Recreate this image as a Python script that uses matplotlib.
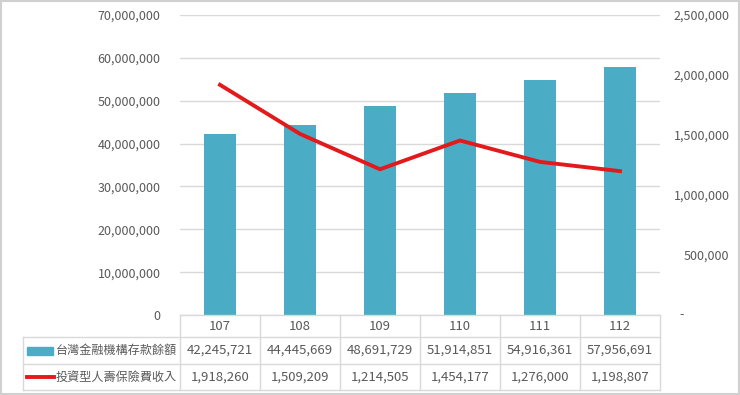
import matplotlib
matplotlib.use("Agg")
import matplotlib.pyplot as plt
from matplotlib.lines import Line2D
from matplotlib.patches import Rectangle
from matplotlib.ticker import FuncFormatter, MultipleLocator
import matplotlib.transforms as mtransforms

plt.rcParams['font.family'] = ['Noto Sans CJK TC', 'DejaVu Sans']

# data
years = ['107', '108', '109', '110', '111', '112']
deposits = [42245721, 44445669, 48691729, 51914851, 54916361, 57956691]
premiums = [1918260, 1509209, 1214505, 1454177, 1276000, 1198807]
bar_name = '台灣金融機構存款餘額'
line_name = '投資型人壽保險費收入'

BAR_COLOR = '#4BACC6'
LINE_COLOR = '#E31A1C'
GRID = '#D9D9D9'
TEXT = '#595959'

W, H = 740, 395
fig = plt.figure(figsize=(W / 100, H / 100), dpi=100)

# plot area in pixels
left, right, top, bottom = 180, 660, 15, 315
ax = fig.add_axes([left / W, 1 - bottom / H, (right - left) / W, (bottom - top) / H])
ax2 = ax.twinx()

x = list(range(len(years)))
ax.bar(x, deposits, width=0.41, color=BAR_COLOR, zorder=2)
ax2.plot(x, premiums, color=LINE_COLOR, lw=2.8, solid_joinstyle='miter', zorder=3)

ax.set_xlim(-0.5, len(years) - 0.5)
ax.set_ylim(0, 70000000)
ax2.set_ylim(0, 2500000)
ax.yaxis.set_major_locator(MultipleLocator(10000000))
ax2.yaxis.set_major_locator(MultipleLocator(500000))
ax.yaxis.set_major_formatter(FuncFormatter(lambda v, p: f'{int(v):,}'))
ax2.yaxis.set_major_formatter(FuncFormatter(lambda v, p: '' if v == 0 else f'{int(v):,}'))
ax.grid(axis='y', color=GRID, lw=1, zorder=0)
ax.set_axisbelow(True)

for a in (ax, ax2):
    for s in a.spines.values():
        s.set_visible(False)
    a.tick_params(length=0, labelsize=9, labelcolor=TEXT)
ax.tick_params(axis='y', pad=14)
ax2.tick_params(axis='y', pad=50)
ax.set_xticks([])
for t in ax2.yaxis.get_major_ticks():
    t.label2.set_horizontalalignment('right')

# dash for zero on the right axis
tr_r = mtransforms.blended_transform_factory(ax.transAxes, ax2.transData)
ax2.text(1 + 19 / 480, 0, '-', transform=tr_r, ha='left', va='center',
         fontsize=9, color=TEXT)

# data table under the plot
def ay(py):
    return -(py - bottom) / (bottom - top)

def axf(px):
    return (px - left) / (right - left)

rows = [bottom, 337, 364, 390]
tbl_left = 23
lines_kw = dict(color=GRID, lw=1, transform=ax.transAxes, clip_on=False)
ax.add_line(Line2D([0, 1], [ay(rows[0])] * 2, **lines_kw))
for ry in rows[1:]:
    ax.add_line(Line2D([axf(tbl_left), 1], [ay(ry)] * 2, **lines_kw))
ax.add_line(Line2D([axf(tbl_left)] * 2, [ay(rows[1]), ay(rows[3])], **lines_kw))
for i in range(len(years) + 1):
    ax.add_line(Line2D([i / len(years)] * 2, [ay(rows[0]), ay(rows[3])], **lines_kw))

tr = mtransforms.blended_transform_factory(ax.transData, ax.transAxes)
mid = [ay((rows[k] + rows[k + 1]) / 2) for k in range(3)]
for i, yr in enumerate(years):
    ax.text(i, mid[0], yr, transform=tr, ha='center', va='center', fontsize=9.5, color=TEXT)
    ax.text(i, mid[1], f'{deposits[i]:,}', transform=tr, ha='center', va='center',
            fontsize=9.5, color=TEXT)
    ax.text(i, mid[2], f'{premiums[i]:,}', transform=tr, ha='center', va='center',
            fontsize=9.5, color=TEXT)

# legend keys in the table
ax.add_patch(Rectangle((axf(27), mid[1] - 4 / 300), 26 / 480, 8 / 300, color=BAR_COLOR,
                       transform=ax.transAxes, clip_on=False))
ax.add_line(Line2D([axf(27), axf(54)], [mid[2]] * 2, color=LINE_COLOR, lw=2.8,
                   transform=ax.transAxes, clip_on=False))
ax.text(axf(56), mid[1], bar_name, transform=ax.transAxes, ha='left', va='center',
        fontsize=8.7, color=TEXT)
ax.text(axf(56), mid[2], line_name, transform=ax.transAxes, ha='left', va='center',
        fontsize=8.7, color=TEXT)

# outer frame
fig.add_artist(Rectangle((0.001, 0.002), 0.997, 0.995, fill=False, ec='#D0D0D0', lw=1.5,
                         transform=fig.transFigure))

fig.savefig('out.png', dpi=100, facecolor='white')
